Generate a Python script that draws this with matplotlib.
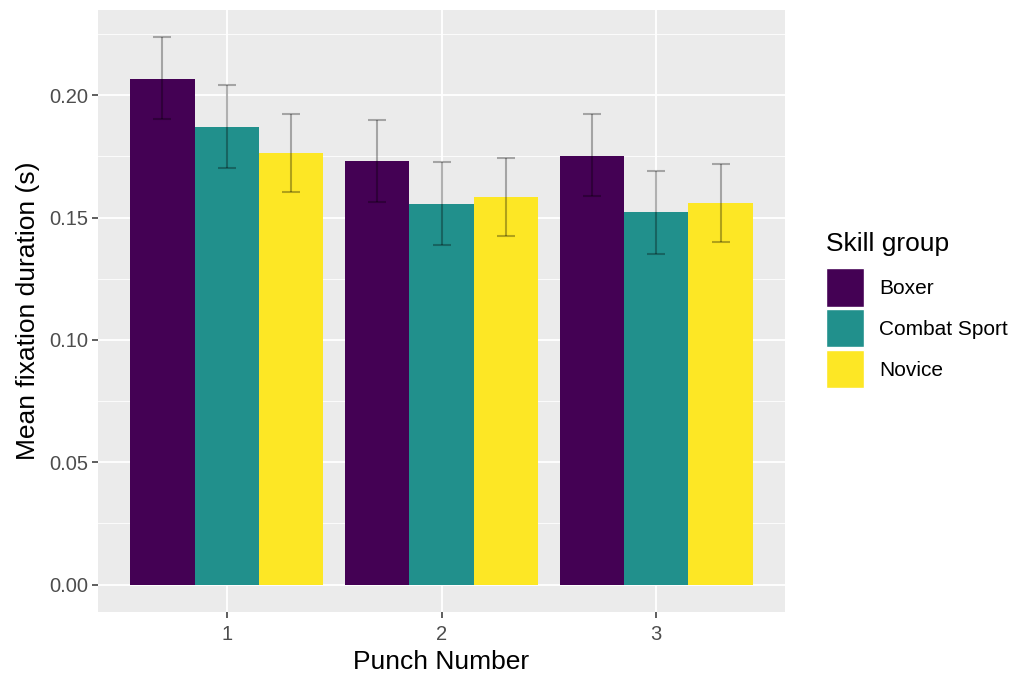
import numpy as np
import matplotlib
matplotlib.use('Agg')
import matplotlib.pyplot as plt
from matplotlib.patches import Patch

plt.rcParams['font.family'] = ['Liberation Sans', 'DejaVu Sans']

# data
punches = ['1', '2', '3']
groups = ['Boxer', 'Combat Sport', 'Novice']
colors = ['#440154', '#21908C', '#FDE725']

mean_boxer = [0.2068, 0.1729, 0.1753]
mean_combat = [0.1870, 0.1554, 0.1521]
mean_novice = [0.1763, 0.1583, 0.1558]

lo_boxer = [0.1902, 0.1562, 0.1587]
hi_boxer = [0.2236, 0.1897, 0.1921]
lo_combat = [0.1702, 0.1387, 0.1351]
hi_combat = [0.2040, 0.1725, 0.1692]
lo_novice = [0.1605, 0.1424, 0.1402]
hi_novice = [0.1923, 0.1743, 0.1720]

means = [mean_boxer, mean_combat, mean_novice]
lows = [lo_boxer, lo_combat, lo_novice]
highs = [hi_boxer, hi_combat, hi_novice]

fig = plt.figure(figsize=(10.16, 6.74), dpi=100)
ax = fig.add_axes([98 / 1016, 1 - 612 / 674, (785 - 98) / 1016, (612 - 10) / 674])
ax.set_facecolor('#EBEBEB')

x = np.arange(1, len(punches) + 1)
bw = 0.3
for i, g in enumerate(groups):
    xs = x + (i - 1) * bw
    m = np.array(means[i])
    ax.bar(xs, m, width=bw, color=colors[i], zorder=2)
    err = [m - np.array(lows[i]), np.array(highs[i]) - m]
    ax.errorbar(xs, m, yerr=err, fmt='none', ecolor=(0, 0, 0, 0.3),
                elinewidth=1.5, capsize=6.5, capthick=1.5, zorder=3)

ax.set_xlim(0.4, 3.6)
ax.set_ylim(-0.0112, 0.2348)
ax.set_xticks(x)
ax.set_xticklabels(punches)
ax.set_yticks([0, 0.05, 0.10, 0.15, 0.20])
ax.set_yticklabels(['0.00', '0.05', '0.10', '0.15', '0.20'])
ax.set_yticks([0.025, 0.075, 0.125, 0.175, 0.225], minor=True)
ax.grid(True, which='major', color='white', linewidth=1.3, zorder=0)
ax.grid(True, which='minor', axis='y', color='white', linewidth=0.6, zorder=0)
ax.set_axisbelow(True)
for s in ax.spines.values():
    s.set_visible(False)
ax.tick_params(axis='both', which='major', length=4, width=1.1, color='#333333',
               labelsize=14.5, labelcolor='#4D4D4D', pad=3)
ax.tick_params(axis='x', which='major', pad=5)
ax.tick_params(axis='both', which='minor', length=0)

ax.set_xlabel('Punch Number', fontsize=19, color='black', labelpad=5)
ax.set_ylabel('Mean fixation duration (s)', fontsize=19, color='black', labelpad=7)

handles = [Patch(facecolor=c, edgecolor='white', linewidth=1) for c in colors]
leg = fig.legend(handles, groups, loc='upper left', bbox_to_anchor=(826 / 1016, 1 - 232 / 674),
                 title='Skill group', fontsize=15, title_fontsize=19, frameon=False,
                 handlelength=1.8, handleheight=2.43, labelspacing=0.14, handletextpad=0.75,
                 borderaxespad=0, borderpad=0)
leg._legend_box.align = 'left'
leg._legend_box.sep = 9

fig.savefig('out.png', dpi=100)
